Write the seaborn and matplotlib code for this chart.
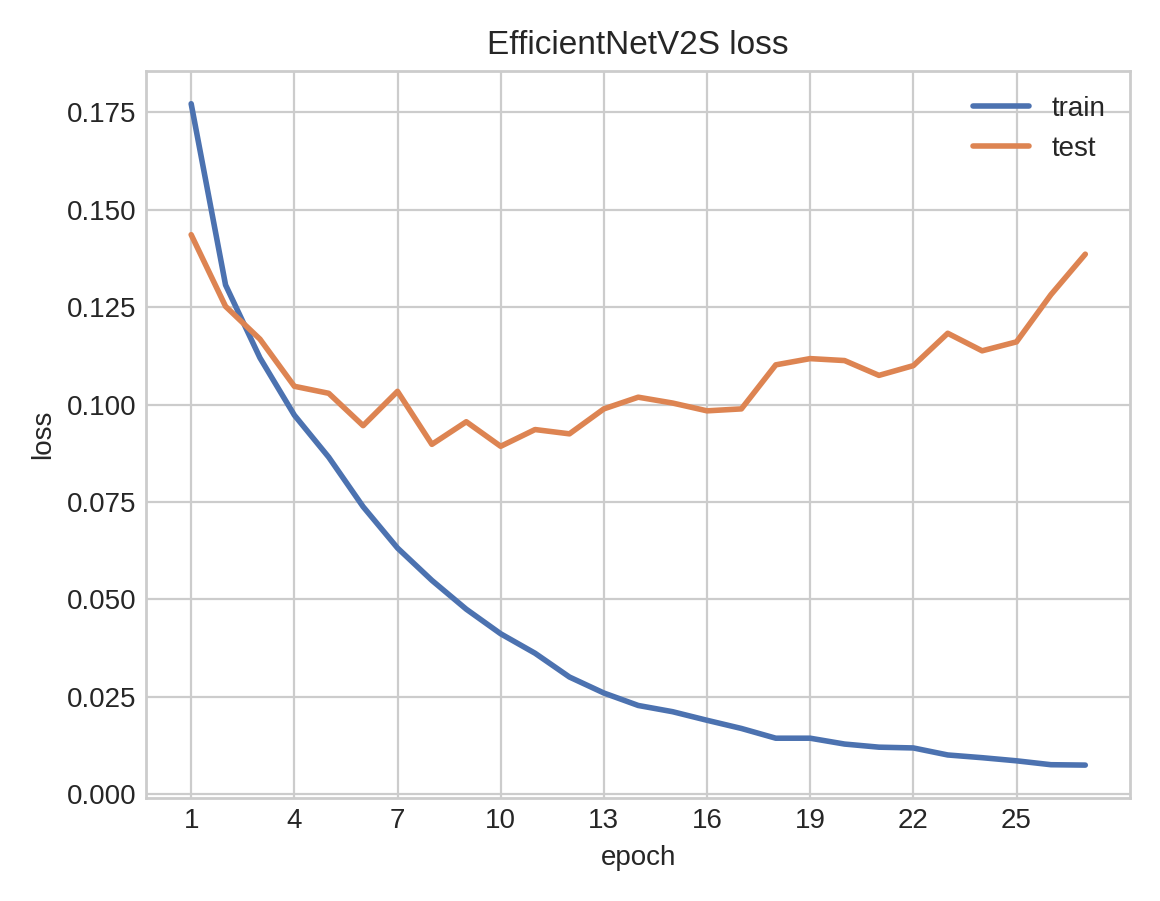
import matplotlib
matplotlib.use("Agg")
import matplotlib.pyplot as plt
import seaborn as sns
import pandas as pd

epochs = list(range(1, 28))
train = [0.1772, 0.1307, 0.1120, 0.0973, 0.0865, 0.0738, 0.0632, 0.0549, 0.0475, 0.0412,
         0.0362, 0.0301, 0.0260, 0.0228, 0.0212, 0.0190, 0.0169, 0.0144, 0.0144, 0.0129,
         0.0121, 0.0119, 0.0101, 0.0094, 0.0086, 0.0076, 0.0075]
test = [0.1436, 0.1252, 0.1168, 0.1047, 0.1029, 0.0946, 0.1034, 0.0898, 0.0956, 0.0893,
        0.0936, 0.0925, 0.0989, 0.1019, 0.1004, 0.0984, 0.0989, 0.1102, 0.1118, 0.1113,
        0.1075, 0.1100, 0.1183, 0.1138, 0.1161, 0.1282, 0.1386]
xticks = [1, 4, 7, 10, 13, 16, 19, 22, 25]

plt.style.use("seaborn-v0_8-whitegrid")
pal = sns.color_palette("deep")
df = pd.DataFrame({"epoch": epochs * 2, "loss": train + test,
                   "set": ["train"] * len(epochs) + ["test"] * len(epochs)})

fig, ax = plt.subplots(figsize=(5.8, 4.505), dpi=200)
sns.lineplot(data=df, x="epoch", y="loss", hue="set", palette=[pal[0], pal[1]], linewidth=2, ax=ax)
ax.set_xticks(xticks)
ax.set_xlim(-0.3, 28.3)
ax.set_title("EfficientNetV2S loss")
ax.set_xlabel("epoch")
ax.set_ylabel("loss")
for s in ax.spines.values():
    s.set_visible(True)
    s.set_color("#cccccc")
leg = ax.legend(loc="upper right")
plt.tight_layout()
fig.savefig("out.png", dpi=200)
